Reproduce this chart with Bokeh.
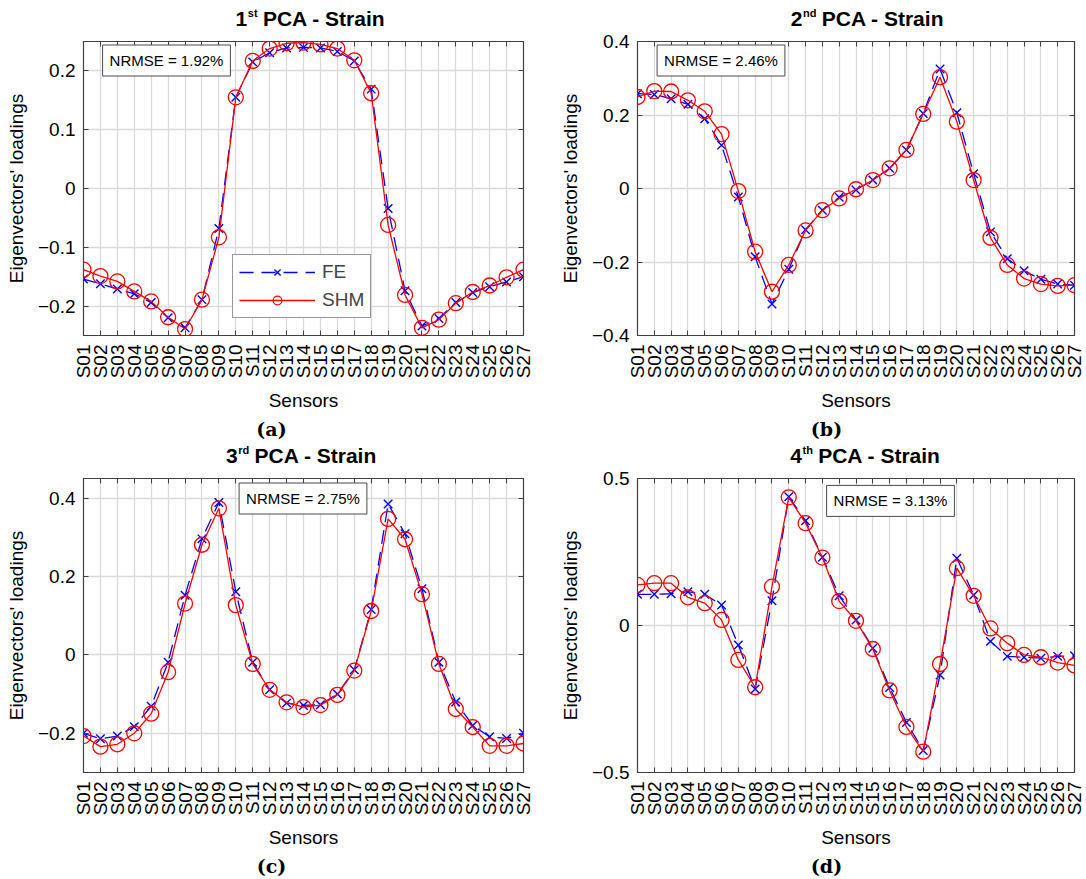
import math
from bokeh.plotting import figure
from bokeh.models import (Range1d, FixedTicker, LinearAxis, Label, Legend, LegendItem,
                          CustomJSTickFormatter, ColumnDataSource)
from bokeh.layouts import column, row
from bokeh.embed import file_html
from bokeh.resources import INLINE

# ---------------- data ----------------
sensors = ["S01", "S02", "S03", "S04", "S05", "S06", "S07", "S08", "S09", "S10",
           "S11", "S12", "S13", "S14", "S15", "S16", "S17", "S18", "S19", "S20",
           "S21", "S22", "S23", "S24", "S25", "S26", "S27"]
sensor_pos = list(range(1, len(sensors) + 1))

fe_1 = [-0.154, -0.162, -0.171, -0.179, -0.194, -0.220, -0.237, -0.189, -0.068, 0.155,
        0.215, 0.231, 0.239, 0.240, 0.239, 0.233, 0.217, 0.169, -0.034, -0.174,
        -0.234, -0.221, -0.194, -0.177, -0.167, -0.159, -0.150]
shm_1 = [-0.138, -0.149, -0.158, -0.175, -0.192, -0.219, -0.239, -0.189, -0.083, 0.155,
         0.217, 0.238, 0.247, 0.248, 0.245, 0.238, 0.218, 0.162, -0.062, -0.181,
         -0.237, -0.223, -0.195, -0.176, -0.165, -0.151, -0.138]

fe_2 = [0.258, 0.256, 0.244, 0.229, 0.190, 0.118, -0.023, -0.186, -0.314, -0.220,
        -0.112, -0.059, -0.024, -0.004, 0.023, 0.055, 0.105, 0.204, 0.325, 0.206,
        0.040, -0.118, -0.191, -0.224, -0.247, -0.260, -0.263]
shm_2 = [0.249, 0.265, 0.264, 0.240, 0.210, 0.148, -0.007, -0.172, -0.281, -0.208,
         -0.114, -0.059, -0.027, -0.002, 0.023, 0.055, 0.105, 0.203, 0.303, 0.182,
         0.023, -0.134, -0.208, -0.245, -0.260, -0.265, -0.263]

fe_3 = [-0.200, -0.214, -0.207, -0.183, -0.131, -0.019, 0.152, 0.296, 0.389, 0.161,
        -0.019, -0.089, -0.123, -0.129, -0.127, -0.100, -0.038, 0.116, 0.385, 0.309,
        0.169, -0.019, -0.120, -0.180, -0.209, -0.213, -0.200]
shm_3 = [-0.207, -0.234, -0.228, -0.200, -0.150, -0.044, 0.131, 0.281, 0.374, 0.127,
         -0.023, -0.089, -0.121, -0.133, -0.128, -0.102, -0.040, 0.112, 0.347, 0.295,
         0.155, -0.023, -0.138, -0.184, -0.232, -0.232, -0.226]

fe_4 = [0.106, 0.106, 0.108, 0.115, 0.106, 0.070, -0.066, -0.216, 0.084, 0.438,
        0.356, 0.232, 0.101, 0.019, -0.077, -0.211, -0.330, -0.425, -0.168, 0.229,
        0.104, -0.054, -0.105, -0.108, -0.111, -0.105, -0.103]
shm_4 = [0.138, 0.144, 0.144, 0.096, 0.076, 0.019, -0.117, -0.210, 0.132, 0.436,
         0.348, 0.231, 0.083, 0.016, -0.080, -0.221, -0.345, -0.429, -0.131, 0.195,
         0.101, -0.010, -0.060, -0.100, -0.108, -0.126, -0.136]

ordinals = ["1", "2", "3", "4"]
ordinal_sups = ["st", "nd", "rd", "th"]
title_rest = "PCA - Strain"
nrmse_texts = ["NRMSE = 1.92%", "NRMSE = 2.46%", "NRMSE = 2.75%", "NRMSE = 3.13%"]
panel_tags = ["(a)", "(b)", "(c)", "(d)"]
y_ranges = [(-0.25, 0.25), (-0.4, 0.4), (-0.3, 0.45), (-0.5, 0.5)]
y_ticks = [[-0.2, -0.1, 0, 0.1, 0.2], [-0.4, -0.2, 0, 0.2, 0.4], [-0.2, 0, 0.2, 0.4], [-0.5, 0, 0.5]]
legend_labels = ["FE", "SHM"]

# ---------------- styling ----------------
FONT = "Liberation Sans"
AX = "#404040"
GRID = "#dadada"
BLUE = "#0000ff"
RED = "#ff0000"

# Liberation Sans Bold advance widths (em) for the title pieces
BOLD_W = {"1": .556, "2": .556, "3": .556, "4": .556, "s": .556, "t": .333,
          "n": .611, "d": .611, "r": .389, "h": .611, " ": .278,
          "P": .667, "C": .722, "A": .722, "-": .333, "S": .667, "a": .556, "i": .278}


def text_w(s, size):
    return sum(BOLD_W.get(c, 0.6) for c in s) * size


y_fmt = CustomJSTickFormatter(code="return (tick < 0 ? '\\u2212' : '') + Math.abs(tick).toString();")
x_labels = dict(zip(sensor_pos, sensors))


def blank_fig(width, height):
    f = figure(width=width, height=height, x_range=Range1d(0, 1), y_range=Range1d(0, 1),
               output_backend="svg", toolbar_location=None, min_border=0,
               x_axis_location=None, y_axis_location=None)
    f.outline_line_color = None
    f.grid.visible = False
    return f


def title_fig(k, width, height, cx, cy):
    f = blank_fig(width, height)
    num, sup = ordinals[k], ordinal_sups[k]
    ms, ss = 21, 11
    wn, ws, wsp = text_w(num, ms), text_w(sup, ss), text_w(" ", ms)
    total = wn + ws + wsp + text_w(title_rest, ms)
    x0 = cx - total / 2
    common = dict(x_units="screen", y_units="screen", text_font=FONT, text_font_style="bold",
                  text_color="black", text_align="left", text_baseline="middle")
    f.add_layout(Label(x=x0, y=cy, text=num, text_font_size=f"{ms}px", **common))
    f.add_layout(Label(x=x0 + wn + 0.5, y=cy + 6, text=sup, text_font_size=f"{ss}px", **common))
    f.add_layout(Label(x=x0 + wn + ws + wsp, y=cy, text=title_rest, text_font_size=f"{ms}px", **common))
    return f


def tag_fig(k, width, height, cx, cy):
    f = blank_fig(width, height)
    f.add_layout(Label(x=cx, y=cy, x_units="screen", y_units="screen",
                       text=panel_tags[k], text_font="DejaVu Serif", text_font_style="bold",
                       text_font_size="19px", text_color="black",
                       text_align="center", text_baseline="middle"))
    return f


def make_panel(k, fe, shm, width, height, bl, br, bt, bb, nrmse_xy, legend_loc=None):
    lo, hi = y_ranges[k]
    p = figure(width=width, height=height, x_range=Range1d(1, 27), y_range=Range1d(lo, hi),
               output_backend="svg", toolbar_location=None,
               min_border_left=bl, min_border_right=br, min_border_top=bt, min_border_bottom=bb)
    p.outline_line_color = AX
    p.outline_line_width = 1.2
    p.background_fill_color = "white"

    xa = p.xaxis[0]
    xa.ticker = FixedTicker(ticks=sensor_pos)
    xa.major_label_overrides = x_labels
    xa.major_label_orientation = math.pi / 2
    xa.axis_label = "Sensors"
    ya = p.yaxis[0]
    ya.ticker = FixedTicker(ticks=y_ticks[k])
    ya.formatter = y_fmt
    ya.axis_label = "Eigenvectors' loadings"
    for ax in (xa, ya):
        ax.major_label_text_font = FONT
        ax.major_label_text_font_size = "19px"
        ax.major_label_text_color = "black"
        ax.axis_label_text_font = FONT
        ax.axis_label_text_font_size = "19px"
        ax.axis_label_text_font_style = "normal"
        ax.axis_label_text_color = "black"
        ax.major_tick_in = 5
        ax.major_tick_out = 0
        ax.minor_tick_in = 0
        ax.minor_tick_out = 0
        ax.major_tick_line_color = AX
        ax.axis_line_color = AX
    xa.major_label_standoff = 9
    xa.axis_label_standoff = 9
    ya.major_label_standoff = 8
    ya.axis_label_standoff = 8

    empty = CustomJSTickFormatter(code="return '';")
    top = LinearAxis(ticker=FixedTicker(ticks=sensor_pos), formatter=empty)
    right = LinearAxis(ticker=FixedTicker(ticks=y_ticks[k]), formatter=empty)
    for ax in (top, right):
        ax.major_tick_in = 5
        ax.major_tick_out = 0
        ax.minor_tick_in = 0
        ax.minor_tick_out = 0
        ax.major_label_standoff = 0
        ax.major_label_text_font_size = "1px"
        ax.major_tick_line_color = AX
        ax.axis_line_color = AX
    p.add_layout(top, "above")
    p.add_layout(right, "right")

    p.xgrid.ticker = FixedTicker(ticks=sensor_pos)
    p.ygrid.ticker = FixedTicker(ticks=y_ticks[k])
    for g in (p.xgrid, p.ygrid):
        g.grid_line_color = GRID
        g.grid_line_width = 1.3

    src = ColumnDataSource(dict(x=sensor_pos, fe=fe, shm=shm))
    l1 = p.line("x", "fe", source=src, line_color=BLUE, line_width=1.3, line_dash="14 8")
    s1 = p.scatter("x", "fe", source=src, marker="x", size=12, line_color=BLUE, line_width=1.4)
    l2 = p.line("x", "shm", source=src, line_color=RED, line_width=1.3)
    s2 = p.scatter("x", "shm", source=src, marker="circle", size=15, fill_color=None,
                   line_color=RED, line_width=1.3)

    p.add_layout(Label(x=nrmse_xy[0], y=nrmse_xy[1], x_units="screen", y_units="screen",
                       text=nrmse_texts[k], text_font=FONT, text_font_size="15px", text_color="black",
                       text_align="center", text_baseline="middle",
                       border_line_color="#4a4a4a", border_line_width=1,
                       background_fill_color="white", background_fill_alpha=1, padding=7))

    if legend_loc is not None:
        leg = Legend(items=[LegendItem(label=legend_labels[0], renderers=[l1, s1]),
                            LegendItem(label=legend_labels[1], renderers=[l2, s2])],
                     location=legend_loc, label_text_font=FONT, label_text_font_size="19px",
                     glyph_width=76, glyph_height=22, label_height=22, label_standoff=7,
                     padding=6, spacing=6, margin=0,
                     border_line_color="#303030", border_line_width=1,
                     background_fill_color="white", background_fill_alpha=1)
        p.add_layout(leg, "center")
    return p


W1, W2 = 545, 541
# row 1 (page y 0..440)
t1 = title_fig(0, W1, 30, 310, 11.8)
t2 = title_fig(1, W2, 30, 322, 11.8)
p1 = make_panel(0, fe_1, shm_1, W1, 384, 83, 22, 11, 78, (83, 275), legend_loc=(149, 17))
p2 = make_panel(1, fe_2, shm_2, W2, 384, 92, 12, 11, 78, (83.5, 275))
g1 = tag_fig(0, W1, 26, 271, 12)
g2 = tag_fig(1, W2, 26, 281, 12)
# row 2 (page y 440..878)
t3 = title_fig(2, W1, 27, 301, 11.8)
t4 = title_fig(3, W2, 27, 320, 11.8)
p3 = make_panel(2, fe_3, shm_3, W1, 384, 83, 22, 11, 78, (219.5, 274))
p4 = make_panel(3, fe_4, shm_4, W2, 384, 92, 12, 11, 78, (253, 271.6))
g3 = tag_fig(2, W1, 27, 271, 13)
g4 = tag_fig(3, W2, 27, 281, 13)

layout = column(row(t1, t2), row(p1, p2), row(g1, g2),
                row(t3, t4), row(p3, p4), row(g3, g4))

open("out.html", "w").write(file_html(layout, INLINE))
